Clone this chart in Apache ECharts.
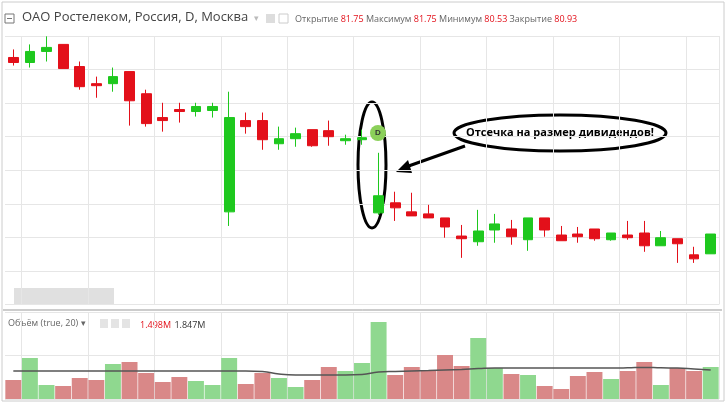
<!DOCTYPE html>
<html><head><meta charset="utf-8">
<script src="https://cdn.jsdelivr.net/npm/echarts@6/dist/echarts.min.js"></script>
<style>html,body{margin:0;padding:0;background:#fff}#c{width:728px;height:405px}</style>
</head><body><div id="c"></div>
<script>
const days = Array.from({length:43},(_,i)=>'D'+(i+1));
// [open, close, low, high]
const candles = [
[82.36,82.21,82.12,82.60],[82.21,82.54,82.06,82.75],[82.54,82.66,82.24,82.99],[82.75,82.03,82.03,82.75],
[82.09,81.49,81.40,82.24],[81.58,81.52,81.16,81.79],[81.58,81.79,81.34,82.06],[81.94,81.07,80.33,81.94],
[81.28,80.39,80.30,81.40],[80.57,80.48,80.15,81.01],[80.81,80.75,80.42,81.01],[80.75,80.90,80.60,81.01],
[80.78,80.90,80.57,81.01],[77.76,80.57,77.34,81.34],[80.48,80.30,80.09,80.72],[80.48,79.91,79.61,80.72],
[79.79,79.94,79.61,80.30],[79.94,80.09,79.70,80.27],[80.21,79.73,79.70,80.21],[80.18,80.00,79.73,80.48],
[79.88,79.94,79.76,80.06],[79.91,79.97,79.76,80.21],[77.73,78.24,77.67,79.52],[78.03,77.88,77.49,78.36],
[77.76,77.64,77.64,78.33],[77.70,77.58,77.58,77.97],[77.58,77.31,76.99,77.58],[77.04,76.96,76.39,77.37],
[76.87,77.19,76.75,77.82],[77.22,77.40,76.84,77.70],[77.25,77.02,76.78,77.52],[76.93,77.58,76.60,77.58],
[77.58,77.22,77.02,77.58],[77.07,76.90,76.90,77.34],[77.10,77.02,76.84,77.31],[77.25,76.96,76.90,77.25],
[76.93,77.13,76.90,77.13],[77.07,76.99,76.93,77.49],[77.13,76.75,76.57,77.49],[76.75,76.99,76.75,77.19],
[76.96,76.81,76.24,76.96],[76.48,76.36,76.24,76.72],[76.51,77.10,76.51,77.10]];
const volumes = [0.95,2.05,0.70,0.65,1.05,0.95,1.75,1.85,1.30,0.85,1.10,0.90,0.70,2.05,0.75,1.30,1.05,0.60,0.95,1.60,1.40,1.80,3.85,1.20,1.60,1.45,2.20,1.65,3.05,1.55,1.25,1.20,0.65,0.50,1.15,1.35,1.00,1.40,1.85,0.70,1.55,1.40,1.60];
const volumeMA = [1.40,1.40,1.40,1.40,1.40,1.40,1.40,1.40,1.40,1.40,1.40,1.40,1.40,1.40,1.40,1.38,1.25,1.20,1.20,1.20,1.20,1.22,1.35,1.38,1.40,1.42,1.45,1.48,1.52,1.55,1.55,1.55,1.55,1.55,1.55,1.55,1.55,1.56,1.58,1.56,1.55,1.50,1.45];

const up='#1ec81e', down='#e3101a', vUp='#8fd88f', vDown='#d98888';
const chart = echarts.init(document.getElementById('c'));
const volData = volumes.map((v,i)=>({value:v,itemStyle:{color:candles[i][1]>=candles[i][0]?vUp:vDown}}));
const splitX = {show:true,interval:(i)=>i%4===1,lineStyle:{color:'#e6e6e6'}};
const f9 = '9px "Open Sans", sans-serif';
chart.setOption({
  animation:false,
  grid:[{left:5,width:714,top:36,height:268.5},{left:5,width:714,top:312,height:87}],
  xAxis:[
    {type:'category',data:days,gridIndex:0,axisLine:{show:false},axisTick:{show:false},axisLabel:{show:false},splitLine:splitX},
    {type:'category',data:days,gridIndex:1,axisLine:{show:false},axisTick:{show:false},axisLabel:{show:false},splitLine:splitX}
  ],
  yAxis:[
    {type:'value',gridIndex:0,min:75,max:83,interval:1,axisLine:{show:false},axisLabel:{show:false},axisTick:{show:false},splitLine:{lineStyle:{color:'#e6e6e6'}}},
    {type:'value',gridIndex:1,min:0,max:4.35,interval:2.175,axisLine:{show:false},axisLabel:{show:false},axisTick:{show:false},splitLine:{lineStyle:{color:'#e6e6e6'}}}
  ],
  series:[
    {type:'candlestick',data:candles,xAxisIndex:0,yAxisIndex:0,barWidth:'62%',
     itemStyle:{color:up,color0:down,borderColor:up,borderColor0:down,borderWidth:1}},
    {type:'bar',data:volData,xAxisIndex:1,yAxisIndex:1,barCategoryGap:'4%'},
    {type:'line',data:volumeMA,xAxisIndex:1,yAxisIndex:1,symbol:'none',smooth:true,lineStyle:{color:'#555',width:1.5}}
  ],
  graphic:[
    {type:'rect',shape:{x:2,y:2,width:722,height:399},style:{fill:'none',stroke:'#ccc',lineWidth:1},silent:true},
    {type:'line',shape:{x1:3,y1:310,x2:722,y2:310},style:{stroke:'#999',lineWidth:1}},
    {type:'rect',shape:{x:5,y:14,width:9,height:9},style:{fill:'none',stroke:'#777',lineWidth:1}},
    {type:'line',shape:{x1:7,y1:18.5,x2:12,y2:18.5},style:{stroke:'#777'}},
    {type:'text',left:22,top:11,style:{text:'ОАО Ростелеком, Россия, D, Москва',font:'13px "Open Sans", sans-serif',fill:'#444'}},
    {type:'text',left:254,top:14,style:{text:'▾',font:'9px sans-serif',fill:'#bbb'}},
    {type:'rect',shape:{x:266,y:14,width:9,height:9},style:{fill:'#ddd'}},
    {type:'rect',shape:{x:279,y:14,width:9,height:9},style:{fill:'none',stroke:'#ccc'}},
    {type:'text',left:295,top:15,style:{rich:{l:{font:f9,fill:'#666'},v:{font:f9,fill:'#e3101a'}},
      text:'{l|Открытие }{v|81.75}{l| Максимум }{v|81.75}{l| Минимум }{v|80.53}{l| Закрытие }{v|80.93}'}},
    {type:'rect',shape:{x:14,y:288,width:100,height:16},style:{fill:'#d8d8d8',opacity:0.8}},
    {type:'text',left:8,top:319,style:{text:'Объём (true, 20) ▾',font:f9,fill:'#666'}},
    {type:'rect',shape:{x:100,y:319,width:8,height:9},style:{fill:'#e4e4e4'}},
    {type:'rect',shape:{x:111,y:319,width:8,height:9},style:{fill:'#e4e4e4'}},
    {type:'rect',shape:{x:122,y:319,width:8,height:9},style:{fill:'#e4e4e4'}},
    {type:'text',left:140,top:319,style:{rich:{r:{font:f9,fill:'#e3101a'},k:{font:f9,fill:'#333'}},text:'{r|1.498M} {k|1.847M}'}},
    {type:'circle',shape:{cx:378,cy:133,r:8},style:{fill:'#8bd05a'},z:100},
    {type:'text',x:378,y:133,z:101,style:{text:'D',font:'bold 8px sans-serif',fill:'#333',align:'center',verticalAlign:'middle'}},
    {type:'ellipse',shape:{cx:372,cy:165,rx:14,ry:63},style:{fill:'none',stroke:'#000',lineWidth:3}},
    {type:'ellipse',shape:{cx:560,cy:133,rx:106,ry:18},style:{fill:'#fff',stroke:'#000',lineWidth:3}},
    {type:'text',x:560,y:133,style:{text:'Отсечка на размер дивидендов!',font:'bold 11px "Open Sans", sans-serif',fill:'#000',align:'center',verticalAlign:'middle'}},
    {type:'line',shape:{x1:465,y1:146,x2:403,y2:168},style:{stroke:'#000',lineWidth:3}},
    {type:'polygon',shape:{points:[[396,172],[408,160],[412,173]]},style:{fill:'#000'}}
  ]
});
</script></body></html>
